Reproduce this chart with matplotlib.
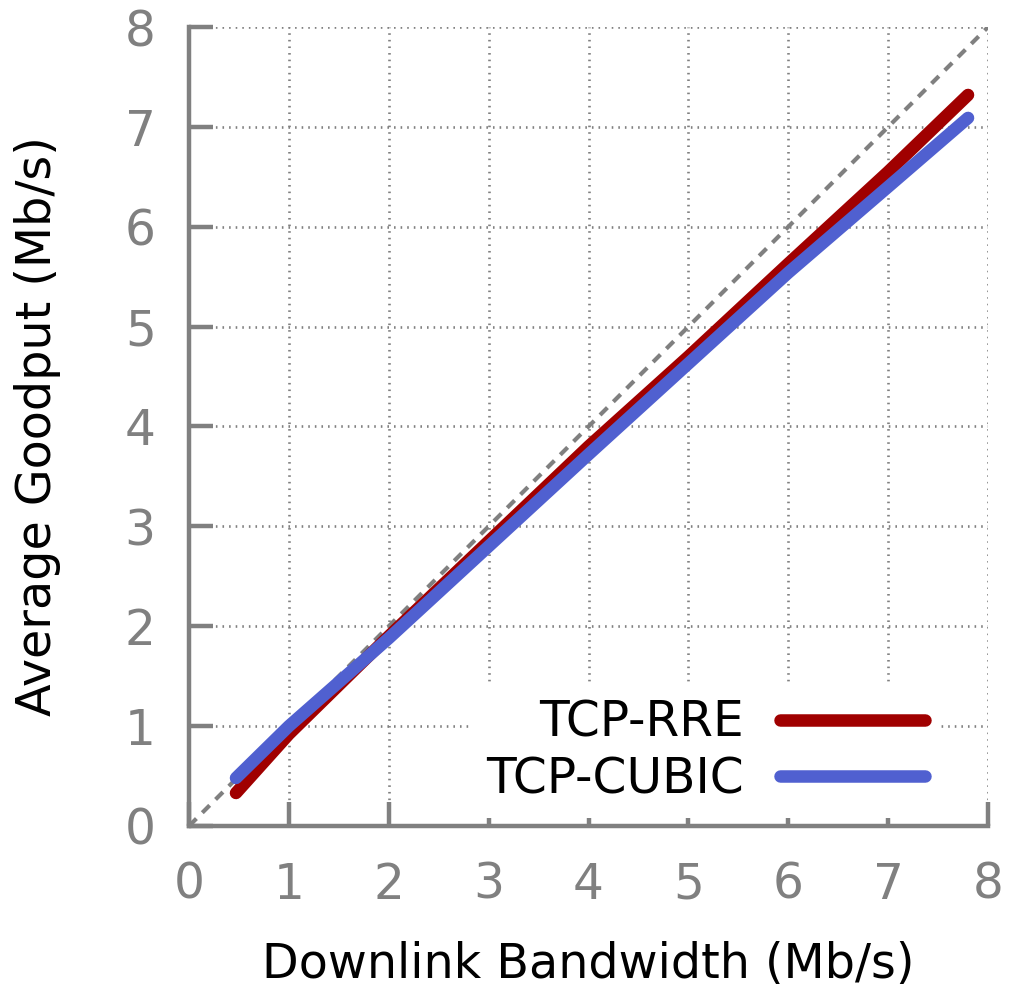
import matplotlib
matplotlib.use("Agg")
import matplotlib.pyplot as plt
from matplotlib.lines import Line2D

# Data
bandwidth = [0.47, 1.0, 2.0, 3.0, 4.0, 5.0, 6.0, 7.0, 7.8]
rre_goodput = [0.33, 0.92, 1.90, 2.85, 3.80, 4.70, 5.63, 6.55, 7.32]
cubic_goodput = [0.48, 1.00, 1.88, 2.80, 3.72, 4.63, 5.54, 6.40, 7.09]
ticks = [0, 1, 2, 3, 4, 5, 6, 7, 8]
series_names = ["TCP-RRE", "TCP-CUBIC"]

GRAY = "#808080"
RED = "#a00000"
BLUE = "#5060d0"
FS = 35
LFS = 34.3

plt.rcParams['font.family'] = ['DejaVu Sans']
fig = plt.figure(figsize=(10.12, 9.9), dpi=100)
ax = fig.add_axes([0.1868, 0.1657, 0.7895, 0.807])

ax.plot([0, 8], [0, 8], color=GRAY, lw=3, ls=(0, (2.5, 2)), zorder=2)
ax.plot(bandwidth, rre_goodput, color=RED, lw=9, solid_capstyle='round', zorder=3)
ax.plot(bandwidth, cubic_goodput, color=BLUE, lw=9, solid_capstyle='round', zorder=4)

ax.set_xlim(0, 8)
ax.set_ylim(0, 8)
ax.set_xticks(ticks)
ax.set_yticks(ticks)
ax.set_xticklabels([str(t) for t in ticks])
ax.set_yticklabels([str(t) for t in ticks])

for s in ['top', 'right']:
    ax.spines[s].set_visible(False)
for s in ['left', 'bottom']:
    ax.spines[s].set_color(GRAY)
    ax.spines[s].set_linewidth(3.2)

ax.tick_params(direction='in', length=17, width=3.2, color=GRAY,
               labelcolor=GRAY, labelsize=FS)
ax.tick_params(axis='x', pad=25)
ax.tick_params(axis='y', pad=24)

ax.grid(True, color=GRAY, lw=1.9, ls=(0, (0.6, 1.9)), zorder=1)
ax.set_axisbelow(True)

ax.set_xlabel("Downlink Bandwidth (Mb/s)", fontsize=LFS, labelpad=23)
ax.set_ylabel("Average Goodput (Mb/s)", fontsize=LFS, labelpad=46)

handles = [Line2D([], [], color=RED, lw=9, solid_capstyle='round'),
           Line2D([], [], color=BLUE, lw=9, solid_capstyle='round')]
leg = ax.legend(handles, series_names, loc='lower right', markerfirst=False,
                fontsize=FS, frameon=True, fancybox=False, framealpha=1,
                edgecolor='none', facecolor='white', handlelength=3.0,
                handletextpad=0.74, labelspacing=0.18, borderpad=0.3,
                borderaxespad=0.0, bbox_to_anchor=(0.94, 0.01))
leg.set_zorder(5)

fig.savefig("out.png", dpi=100)
